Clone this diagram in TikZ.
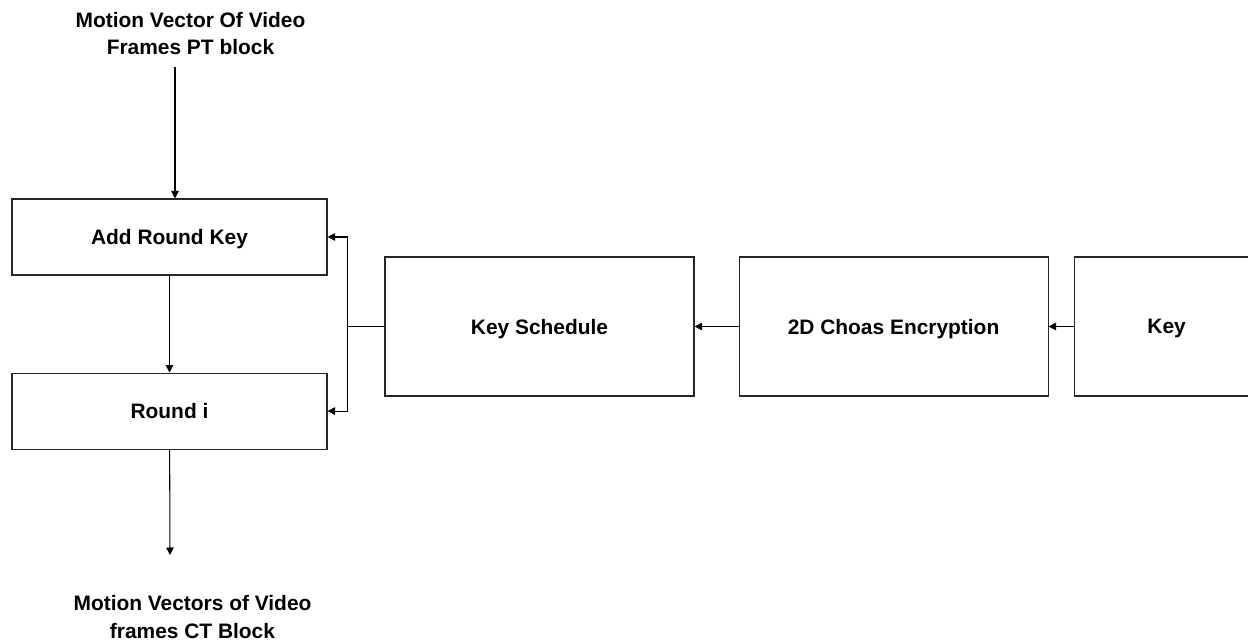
\documentclass[tikz,border=0pt]{standalone}
\usepackage{fontspec}
\setmainfont{Liberation Sans}
\usepackage{tikz}
\usetikzlibrary{arrows.meta, positioning}

\begin{document}
\begin{tikzpicture}[
  block/.style={draw=black!85, line width=0.6pt, fill=white, minimum width=6.3cm, minimum height=1.52cm, text depth=0pt, font=\fontsize{11.9}{14.7}\selectfont\bfseries},
  wide/.style={block, minimum width=6.18cm, minimum height=2.78cm},
  label/.style={align=center, font=\fontsize{11.9}{15.4}\selectfont\bfseries},
  arrow/.style={-{Triangle[length=1.5mm, width=1.5mm]}, line width=0.6pt, black},
]
  \useasboundingbox (0,0) rectangle (24.96,-12.82);

  \node[label] (ptin) at (3.81,-0.67) {Motion Vector Of Video\\Frames PT block};
  \node[block] (addkey) at (3.39,-4.74) {Add Round Key};
  \node[block, below=1.94cm of addkey] (round) {Round i};
  \node[label] (ctout) at (3.85,-12.34) {Motion Vectors of Video\\frames CT Block};

  \node[wide] (keysched) at (10.79,-6.53) {Key Schedule};
  \node[wide, right=0.88cm of keysched] (chaos) {2D Choas Encryption};
  \node[wide, minimum width=3.7cm, right=0.5cm of chaos] (key) {Key};

  \coordinate (intop) at (3.5,-1.34);
  \coordinate (outend) at (3.4,-11.1);

  \draw[arrow] (intop) -- (intop |- addkey.north);
  \draw[arrow] (addkey) -- (round);
  \draw[arrow] (round) -- (outend);

  \draw[arrow] (key) -- (chaos);
  \draw[arrow] (chaos) -- (keysched);
  \draw[line width=0.6pt] (keysched.west) -- ++(-0.74,0) coordinate (split);
  \draw[arrow] (split) |- (addkey.east);
  \draw[arrow] (split) |- (round.east);
\end{tikzpicture}
\end{document}
